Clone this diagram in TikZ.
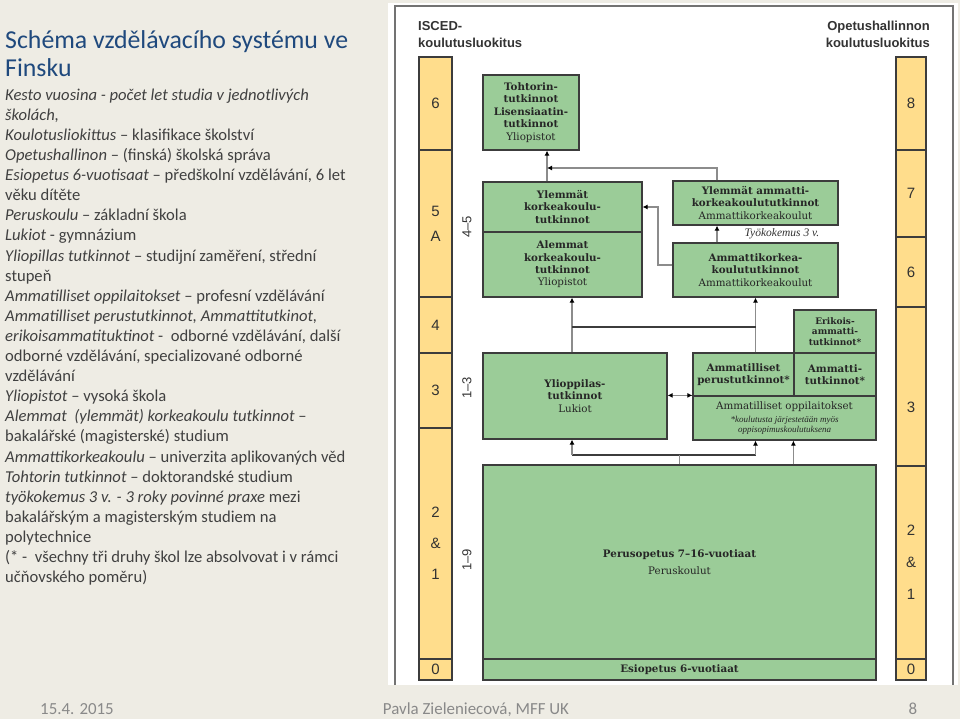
\documentclass[tikz,border=0pt]{standalone}
\usepackage{fontspec}
\setmainfont{Carlito}
\newfontfamily\headfont{Liberation Sans}
\newfontfamily\boxfont{DejaVu Serif}
\newfontfamily\notefont{Liberation Serif}
\usetikzlibrary{arrows.meta}
\definecolor{slide}{RGB}{238,236,228}
\definecolor{ttl}{RGB}{31,73,125}
\definecolor{body}{RGB}{64,64,64}
\definecolor{foot}{RGB}{137,137,137}
\definecolor{bandfill}{RGB}{255,221,140}
\definecolor{slotfill}{RGB}{155,204,152}
\definecolor{edge}{RGB}{60,60,60}
\definecolor{wire}{RGB}{140,140,140}
\definecolor{digit}{RGB}{50,50,50}

\begin{document}
\begin{tikzpicture}[x=1pt, y=-1pt,
  >={Latex[length=5pt,width=5pt,color=black]},
  slot/.style={draw=edge, line width=1.2pt, fill=slotfill, inner sep=1pt, align=center, text=black!85,
    font=\boxfont\bfseries\fontsize{10.3}{12.4}\selectfont},
  band/.style={draw=edge, line width=1.2pt, fill=bandfill, inner sep=0pt, align=center, text=digit,
    font=\headfont\fontsize{15}{25}\selectfont},
  head/.style={font=\headfont\bfseries\fontsize{13}{17}\selectfont, text=black!80, inner sep=0pt},
  span/.style={rotate=90, font=\headfont\fontsize{13}{13}\selectfont, text=digit, inner sep=0pt},
  foot/.style={font=\fontsize{16.9}{18}\selectfont, text=foot, inner sep=0pt},
  link/.style={draw=wire, line width=1.3pt},
  bar/.style={draw=edge, line width=1.3pt}
]
  \useasboundingbox[fill=slide] (0,0) rectangle (960,719);

  % legend on the left
  \node[anchor=north west, align=left, text=ttl, inner sep=0pt, font=\fontsize{25.8}{28.5}\selectfont] (title) at (5,30)
    {Schéma vzdělávacího systému ve\\Finsku};
  \node[anchor=north west, align=left, text=body, inner sep=0pt, font=\fontsize{16.6}{20.1}\selectfont] (legend) at (5,88.5)
    {\textit{Kesto vuosina - počet let studia v jednotlivých}\\
     \textit{školách,}\\
     \textit{Koulotusliokittus} – klasifikace školství\\
     \textit{Opetushallinon} – (finská) školská správa\\
     \textit{Esiopetus 6-vuotisaat} – předškolní vzdělávání, 6 let\\
     věku dítěte\\
     \textit{Peruskoulu} – základní škola\\
     \textit{Lukiot} - gymnázium\\
     \textit{Yliopillas tutkinnot} – studijní zaměření, střední\\
     stupeň\\
     \textit{Ammatilliset oppilaitokset} – profesní vzdělávání\\
     \textit{Ammatilliset perustutkinnot, Ammattitutkinot,}\\
     \textit{erikoisammatituktinot} -\ \ odborné vzdělávání, další\\
     odborné vzdělávání, specializované odborné\\
     vzdělávání\\
     \textit{Yliopistot} – vysoká škola\\
     \textit{Alemmat\ \ (ylemmät) korkeakoulu tutkinnot} –\\
     bakalářské (magisterské) studium\\
     \textit{Ammattikorkeakoulu} – univerzita aplikovaných věd\\
     \textit{Tohtorin tutkinnot} – doktorandské studium\\
     \textit{työkokemus 3 v. - 3 roky povinné praxe} mezi\\
     bakalářským a magisterským studiem na\\
     polytechnice\\
     (* -\ \ všechny tři druhy škol lze absolvovat i v rámci\\
     učňovského poměru)};

  % chart panel
  \fill[white] (388,3) rectangle (958,685);
  \draw[draw=black!55, line width=1.5pt] (395,685) -- (395,6) -- (953,6) -- (953,685);
  \node[head, anchor=north west, align=left] (iscedh) at (418,21) {ISCED-\\koulutusluokitus};
  \node[head, anchor=north east, align=right] (opeh) at (930,21) {Opetushallinnon\\koulutusluokitus};

  % ISCED levels
  \node[band, minimum width=33pt, minimum height=93pt] (isc6) at (435.5,103.5) {6};
  \node[band, minimum width=33pt, minimum height=147pt] (isc5) at (435.5,223.5) {5\\A};
  \node[band, minimum width=33pt, minimum height=56pt] (isc4) at (435.5,325) {4};
  \node[band, minimum width=33pt, minimum height=75pt] (isc3) at (435.5,390.5) {3};
  \node[band, minimum width=33pt, minimum height=231pt, font=\headfont\fontsize{15}{31}\selectfont] (isc21) at (435.5,543.5) {2\\\&\\1};
  \node[band, minimum width=33pt, minimum height=21pt] (isc0) at (435.5,669.5) {0};

  \node[span] (k45) at (467,227) {4–5};
  \node[span] (k13) at (467,388) {1–3};
  \node[span] (k19) at (467,560) {1–9};

  % national levels
  \node[band, minimum width=30pt, minimum height=93pt] (ope8) at (911,103.5) {8};
  \node[band, minimum width=30pt, minimum height=87pt] (ope7) at (911,193.5) {7};
  \node[band, minimum width=30pt, minimum height=70pt] (ope6) at (911,272) {6};
  \node[band, minimum width=30pt, minimum height=159pt] (ope3) at (911,386.5) {};
  \node[band, draw=none, fill=none] (ope3n) at (911,407) {3};
  \node[band, minimum width=30pt, minimum height=193pt, font=\headfont\fontsize{15}{32}\selectfont] (ope21) at (911,562.5) {2\\\&\\1};
  \node[band, minimum width=30pt, minimum height=21pt] (ope0) at (911,669.5) {0};

  % schools
  \node[slot, minimum width=96pt, minimum height=75pt] (toht) at (531,112.5)
    {Tohtorin-\\tutkinnot\\Lisensiaatin-\\tutkinnot\\{\mdseries Yliopistot}};
  \node[slot, minimum width=159pt, minimum height=50pt] (ylemmat) at (562.5,207)
    {Ylemmät\\korkeakoulu-\\tutkinnot};
  \node[slot, minimum width=159pt, minimum height=65pt] (alemmat) at (562.5,264.5)
    {Alemmat\\korkeakoulu-\\tutkinnot\\{\mdseries Yliopistot}};
  \node[slot, minimum width=165pt, minimum height=44pt] (ylamk) at (755.5,203)
    {Ylemmät ammatti-\\korkeakoulututkinnot\\{\mdseries Ammattikorkeakoulut}};
  \node[font=\notefont\itshape\fontsize{11.5}{12}\selectfont, text=black!80, inner sep=0pt] (tyo) at (782,234) {Työkokemus 3 v.};
  \node[slot, minimum width=165pt, minimum height=54pt] (amk) at (755.5,270)
    {Ammattikorkea-\\koulututkinnot\\{\mdseries Ammattikorkeakoulut}};
  \node[slot, minimum width=82pt, minimum height=43pt, font=\boxfont\bfseries\fontsize{9}{10.5}\selectfont] (erik) at (835,331.5)
    {Erikois-\\ammatti-\\tutkinnot*};
  \node[slot, minimum width=101pt, minimum height=43pt] (perus) at (743.5,374.5)
    {Ammatilliset\\perustutkinnot*};
  \node[slot, minimum width=82pt, minimum height=43pt] (ammtut) at (835,374.5)
    {Ammatti-\\tutkinnot*};
  \node[slot, minimum width=183pt, minimum height=44pt] (oppil) at (784.5,418)
    {{\mdseries Ammatilliset oppilaitokset}\\[1pt]
     {\notefont\mdseries\itshape\fontsize{9}{9}\selectfont *koulutusta järjestetään myös}\\[-3pt]
     {\notefont\mdseries\itshape\fontsize{9}{9}\selectfont oppisopimuskoulutuksena}};
  \node[slot, minimum width=184pt, minimum height=86pt] (lukio) at (575,396)
    {Ylioppilas-\\tutkinnot\\{\mdseries Lukiot}};
  \node[slot, minimum width=393pt, minimum height=194pt] (perusk) at (679.5,562)
    {Perusopetus 7–16-vuotiaat\\[5pt]{\mdseries Peruskoulut}};
  \node[slot, minimum width=393pt, minimum height=21pt] (esi) at (679.5,669.5)
    {Esiopetus 6-vuotiaat};

  % paths between schools
  \coordinate (tohtlane) at (547,168);
  \coordinate (amklane) at (717,168);
  \coordinate (sidelane) at (658,207);
  \coordinate (upbar) at (572,327);
  \coordinate (lowbar) at (572,455);

  \draw[link,->] (ylemmat.north -| tohtlane) -- (toht.south -| tohtlane);
  \draw[link,->] (ylamk.north -| amklane) -- (amklane) -- (tohtlane);
  \draw[link,->] ([yshift=5pt]amk.west) -| (sidelane) -- (ylemmat.east);
  \draw[link,->] (amk.north -| amklane) -- (ylamk.south -| amklane);
  \draw[link,->] (lukio.north -| upbar) -- (alemmat.south -| upbar);
  \draw[link,->] (perus.north -| amk.south) -- (amk.south);
  \draw[bar] (upbar) -- (upbar -| amk.south);
  \draw[link,<->] (lukio.east |- oppil.north west) -- (oppil.north west);
  \draw[bar] (lowbar) -- (lowbar -| amk.south);
  \draw[link] (perusk.north) -- (perusk.north |- lowbar);
  \draw[link,->] (lowbar) -- (lukio.south -| lowbar);
  \draw[link,->] (lowbar -| amk.south) -- (oppil.south -| amk.south);
  \draw[link,->] (perusk.north -| ammtut.south west) -- (oppil.south -| ammtut.south west);

  % footer
  \node[foot, anchor=base west] (date) at (40,714) {15.4. 2015};
  \node[foot, anchor=base] (author) at (476,714) {Pavla Zieleniecová, MFF UK};
  \node[foot, anchor=base] (page) at (913,714) {8};
\end{tikzpicture}
\end{document}
